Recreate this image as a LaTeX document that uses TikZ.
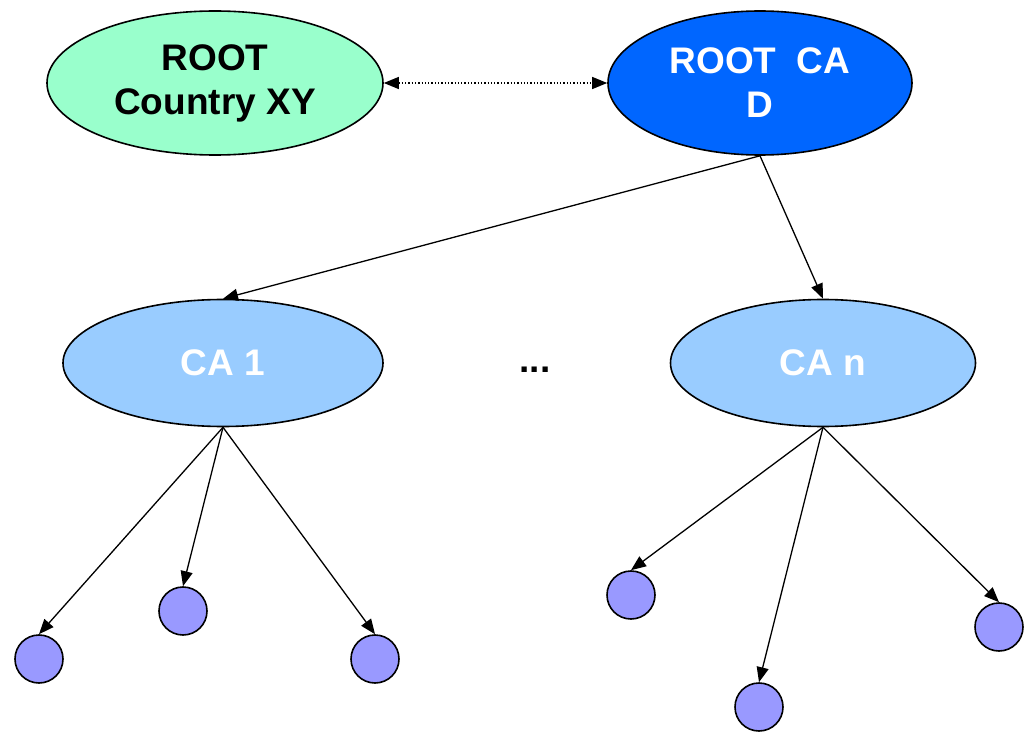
\documentclass[tikz,border=0pt]{standalone}
\usepackage{fontspec}
\setmainfont{Liberation Sans}
\usepackage{tikz}
\usetikzlibrary{arrows.meta}
\usetikzlibrary{shapes.geometric}
\usepackage{xcolor}
\definecolor{rootgreen}{HTML}{99FFCC}
\definecolor{rootblue}{HTML}{0066FF}
\definecolor{cablue}{HTML}{99CCFF}
\definecolor{leafblue}{HTML}{9999FF}

\begin{document}
\begin{tikzpicture}[x=1pt,y=-1pt]
\tikzstyle{every node}=[font=\fontsize{37}{44}\selectfont\bfseries,align=center]
\tikzstyle{oval}=[ellipse,draw,line width=1.6pt,inner sep=0pt]
\tikzstyle{leaf}=[circle,draw,line width=1.6pt,fill=leafblue,minimum size=48pt,inner sep=0pt]
\tikzstyle{link}=[line width=1.3pt,arrows={-Triangle[length=15pt,width=12pt]}]
\useasboundingbox (0,0) rectangle (1026,738);
\node[oval,fill=rootgreen,minimum width=336pt,minimum height=144pt] (rx) at (215,83) {ROOT\\Country XY};
\node[oval,fill=rootblue,text=white,minimum width=304pt,minimum height=144pt] (rca) at (760,83) {ROOT\ \ CA\\D};
\node[oval,fill=cablue,text=white,minimum width=320pt,minimum height=127pt] (ca1) at (223,363) {CA 1};
\node[oval,fill=cablue,text=white,minimum width=305pt,minimum height=127pt] (can) at (823,363) {CA n};
\node (dots) at (535,370) {...};
\node[leaf] (l1) at (39,659) {};
\node[leaf] (l2) at (183,611) {};
\node[leaf] (l3) at (375,659) {};
\node[leaf] (l4) at (631,595) {};
\node[leaf] (l5) at (759,707) {};
\node[leaf] (l6) at (999,627) {};
\draw[line width=1.3pt,dotted,arrows={Triangle[length=15pt,width=12pt]-Triangle[length=15pt,width=12pt]}] (rx.east) -- (rca.west);
\draw[link] (rca.south) -- (ca1.north);
\draw[link] (rca.south) -- (can.north);
\foreach \l in {l1,l2,l3}
  \draw[link] (ca1.south) -- (\l.north);
\foreach \l in {l4,l5,l6}
  \draw[link] (can.south) -- (\l.north);
\end{tikzpicture}
\end{document}
